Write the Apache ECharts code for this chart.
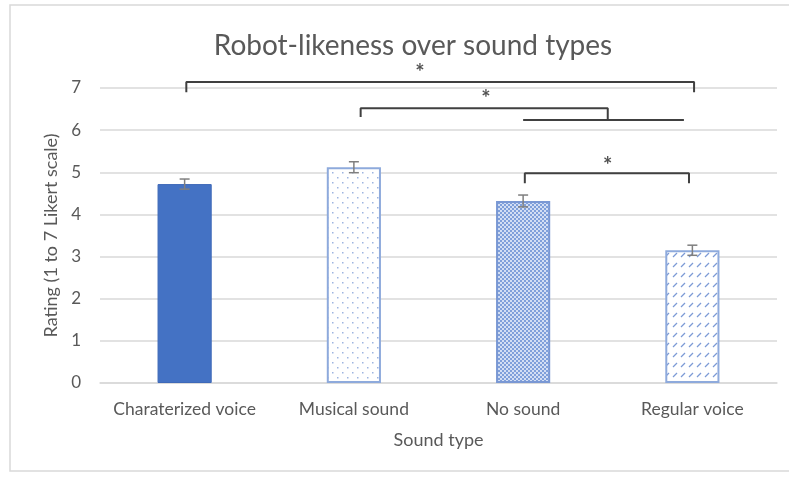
<!DOCTYPE html>
<html>
<head>
<meta charset="utf-8">
<script src="https://cdn.jsdelivr.net/npm/echarts@6/dist/echarts.min.js"></script>
<style>
  html, body { margin: 0; padding: 0; background: #fff; }
  #chart { width: 789px; height: 478px; }
</style>
</head>
<body>
<div id="chart"></div>
<script>
// Mean robot-likeness rating per sound type, with standard errors
const categories = ['Charaterized voice', 'Musical sound', 'No sound', 'Regular voice'];
const means = [4.72, 5.12, 4.32, 3.15];
const errors = [0.12, 0.13, 0.14, 0.12];
const yTicks = [0, 1, 2, 3, 4, 5, 6, 7];

// Significance brackets, in category units (0..4 across the axis) and rating units
const bracketPaths = [
  [[0.51, 6.9], [0.51, 7.14], [3.51, 7.14], [3.51, 6.9]],
  [[1.54, 6.31], [1.54, 6.52], [3.0, 6.52], [3.0, 6.24]],
  [[2.5, 6.24], [3.45, 6.24]],
  [[2.51, 4.74], [2.51, 4.98], [3.48, 4.98], [3.48, 4.74]]
];
const starMarks = [[1.89, 7.48], [2.28, 6.86], [3.0, 5.27]];

const FONT = 'Lato';
const TEXT = '#595959';

function makePattern(w, h, draw) {
  const c = document.createElement('canvas');
  c.width = w; c.height = h;
  const ctx = c.getContext('2d');
  draw(ctx);
  return { image: c, repeat: 'repeat' };
}

// Sparse dots on white
const dotsPattern = makePattern(10, 10, ctx => {
  ctx.fillStyle = '#ffffff'; ctx.fillRect(0, 0, 10, 10);
  ctx.fillStyle = '#9db4e0';
  ctx.fillRect(2, 2, 1.5, 1.5);
  ctx.fillRect(7, 7, 1.5, 1.5);
});
// Dense checker dots
const densePattern = makePattern(4, 4, ctx => {
  ctx.fillStyle = '#d3def4'; ctx.fillRect(0, 0, 4, 4);
  ctx.fillStyle = '#7f9fda';
  ctx.fillRect(0, 0, 2, 2);
  ctx.fillRect(2, 2, 2, 2);
});
// Short diagonal dashes
const dashPattern = makePattern(8, 10, ctx => {
  ctx.fillStyle = '#ffffff'; ctx.fillRect(0, 0, 8, 10);
  ctx.strokeStyle = '#7d9bd6'; ctx.lineWidth = 1.2;
  ctx.beginPath(); ctx.moveTo(1, 7); ctx.lineTo(5, 3); ctx.stroke();
});

const barStyles = [
  { color: '#4472c4', borderColor: '#3e69b8', borderWidth: 1 },
  { color: dotsPattern, borderColor: '#8eaadc', borderWidth: 2 },
  { color: densePattern, borderColor: '#7a98d4', borderWidth: 2 },
  { color: dashPattern, borderColor: '#8eaadc', borderWidth: 2 }
];

const chart = echarts.init(document.getElementById('chart'), null, { renderer: 'canvas' });

const bracketSeries = bracketPaths.map(path => ({
  type: 'line',
  xAxisIndex: 1,
  data: path,
  symbol: 'none',
  silent: true,
  clip: false,
  animation: false,
  lineStyle: { color: '#404040', width: 2 },
  z: 5
}));

chart.setOption({
  animation: false,
  graphic: [{
    type: 'rect',
    shape: { x: 10, y: 5, width: 800, height: 466 },
    style: { fill: 'none', stroke: '#d9d9d9', lineWidth: 1.5 },
    silent: true,
    z: -1
  }],
  title: {
    text: 'Robot-likeness over sound types',
    left: 408,
    top: 27,
    textAlign: 'center',
    textStyle: { fontFamily: FONT, fontSize: 28, fontWeight: 'normal', color: TEXT }
  },
  grid: { left: 100, right: 12, top: 88, bottom: 95, containLabel: false },
  xAxis: [{
    type: 'category',
    data: categories,
    name: 'Sound type',
    nameLocation: 'middle',
    nameGap: 48,
    nameTextStyle: { fontFamily: FONT, fontSize: 18, color: TEXT },
    axisLine: { lineStyle: { color: '#d9d9d9', width: 1.5 } },
    axisTick: { show: false },
    axisLabel: { fontFamily: FONT, fontSize: 17.5, color: TEXT, margin: 17, interval: 0 }
  }, {
    type: 'value',
    min: 0,
    max: 4,
    show: false
  }],
  yAxis: {
    type: 'value',
    min: yTicks[0],
    max: yTicks[yTicks.length - 1],
    interval: 1,
    name: 'Rating (1 to 7 Likert scale)',
    nameLocation: 'middle',
    nameGap: 40,
    nameTextStyle: { fontFamily: FONT, fontSize: 18, color: TEXT },
    axisLine: { show: false },
    axisTick: { show: false },
    axisLabel: { fontFamily: FONT, fontSize: 17, color: TEXT, margin: 19 },
    splitLine: { lineStyle: { color: '#d9d9d9', width: 1.5 } }
  },
  series: [
    {
      type: 'bar',
      barWidth: '32%',
      data: means.map((v, i) => ({ value: v, itemStyle: barStyles[i] })),
      z: 2
    },
    {
      type: 'custom',
      data: means.map((v, i) => [i, v - errors[i], v + errors[i]]),
      renderItem: (params, api) => {
        const lo = api.coord([api.value(0), api.value(1)]);
        const hi = api.coord([api.value(0), api.value(2)]);
        const half = 5;
        const style = { stroke: '#7f7f7f', lineWidth: 1.5 };
        return {
          type: 'group',
          children: [
            { type: 'line', shape: { x1: hi[0], y1: hi[1], x2: lo[0], y2: lo[1] }, style },
            { type: 'line', shape: { x1: hi[0] - half, y1: hi[1], x2: hi[0] + half, y2: hi[1] }, style },
            { type: 'line', shape: { x1: lo[0] - half, y1: lo[1], x2: lo[0] + half, y2: lo[1] }, style }
          ]
        };
      },
      z: 4
    },
    ...bracketSeries,
    {
      type: 'scatter',
      xAxisIndex: 1,
      data: starMarks,
      symbolSize: 1,
      clip: false,
      itemStyle: { color: 'rgba(0,0,0,0)' },
      label: {
        show: true,
        position: 'inside',
        formatter: '*',
        fontFamily: FONT,
        fontSize: 22,
        fontWeight: 'bold',
        color: '#262626',
        offset: [0, 5]
      },
      z: 6
    }
  ]
});
</script>
</body>
</html>
